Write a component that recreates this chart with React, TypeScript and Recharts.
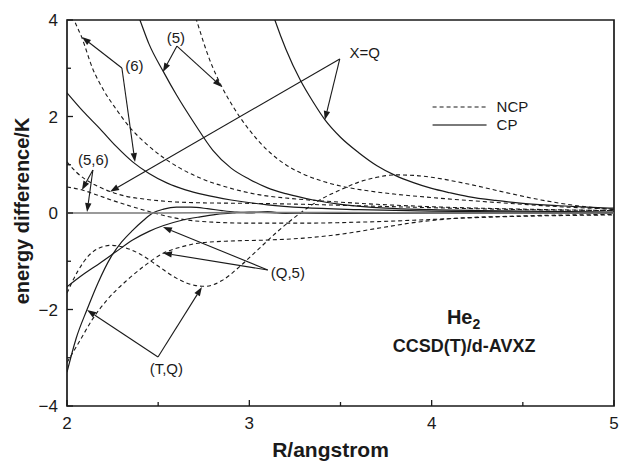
import React from 'react';
import { LineChart, Line, XAxis, YAxis, ReferenceLine, ReferenceDot, ReferenceArea } from 'recharts';

type P = [number, number];

// ---- tick values ----
const xTicks = [2, 2.5, 3, 3.5, 4, 4.5, 5];
const yTicks = [-4, -3, -2, -1, 0, 1, 2, 3, 4];

// ---- CP (solid) series: [R, energy difference] ----
const cpXQ: P[] = [[3.06, 5.0], [3.1, 4.45], [3.14, 4.0], [3.2, 3.4], [3.28, 2.75], [3.35, 2.3], [3.415, 1.93], [3.5, 1.57], [3.6, 1.25], [3.7, 0.98], [3.8, 0.78], [3.9, 0.63], [4.0, 0.51], [4.1, 0.42], [4.2, 0.34], [4.35, 0.26], [4.5, 0.2], [4.7, 0.15], [4.85, 0.12], [5.0, 0.1]];
const cp5: P[] = [[2.35, 4.5], [2.4, 4.0], [2.45, 3.5], [2.53, 2.92], [2.6, 2.45], [2.7, 1.85], [2.8, 1.3], [2.9, 0.93], [3.0, 0.7], [3.1, 0.52], [3.2, 0.4], [3.35, 0.27], [3.5, 0.18], [3.75, 0.1], [4.0, 0.07], [4.5, 0.04], [5.0, 0.02]];
const cp6: P[] = [[2.0, 2.49], [2.09, 2.1], [2.18, 1.75], [2.27, 1.38], [2.36, 1.06], [2.45, 0.82], [2.55, 0.62], [2.65, 0.48], [2.75, 0.38], [2.9, 0.27], [3.1, 0.17], [3.3, 0.11], [3.6, 0.07], [4.0, 0.04], [4.5, 0.02], [5.0, 0.01]];
const cpTQ: P[] = [[2.0, -3.3], [2.05, -2.6], [2.11, -2.0], [2.17, -1.45], [2.24, -0.92], [2.3, -0.6], [2.36, -0.36], [2.42, -0.15], [2.47, 0.0], [2.53, 0.08], [2.6, 0.12], [2.68, 0.12], [2.77, 0.09], [2.85, 0.05], [2.92, 0.02], [3.0, 0.0], [3.1, 0.03], [3.2, -0.01], [3.3, 0.01], [3.5, 0.0], [4.0, 0.0], [5.0, 0.0]];
const cpQ5: P[] = [[2.0, -1.53], [2.09, -1.27], [2.18, -1.04], [2.27, -0.8], [2.36, -0.56], [2.45, -0.38], [2.53, -0.26], [2.63, -0.15], [2.73, -0.08], [2.82, -0.03], [2.91, 0.0], [3.0, 0.02], [3.2, 0.0], [3.5, -0.01], [4.0, 0.0], [5.0, 0.0]];
const cp56: P[] = [[2.0, 0.0], [2.5, 0.0], [3.0, 0.01], [3.5, 0.01], [4.0, 0.0], [5.0, 0.0]];

// ---- NCP (dashed) series ----
const ncp5: P[] = [[2.66, 4.6], [2.71, 4.0], [2.78, 3.2], [2.85, 2.61], [2.92, 2.15], [3.0, 1.72], [3.1, 1.3], [3.2, 1.0], [3.3, 0.8], [3.4, 0.66], [3.5, 0.56], [3.65, 0.46], [3.8, 0.39], [4.0, 0.32], [4.2, 0.26], [4.5, 0.18], [4.75, 0.12], [5.0, 0.08]];
const ncp6: P[] = [[2.0, 4.5], [2.04, 4.0], [2.08, 3.65], [2.14, 3.0], [2.2, 2.55], [2.27, 2.15], [2.35, 1.75], [2.43, 1.45], [2.52, 1.17], [2.62, 0.93], [2.72, 0.74], [2.82, 0.6], [2.92, 0.49], [3.05, 0.38], [3.2, 0.31], [3.4, 0.25], [3.7, 0.18], [4.0, 0.13], [4.5, 0.08], [5.0, 0.05]];
const ncpXQ: P[] = [[2.0, 1.06], [2.05, 0.85], [2.1, 0.7], [2.17, 0.55], [2.24, 0.44], [2.32, 0.35], [2.42, 0.29], [2.55, 0.24], [2.75, 0.21], [3.0, 0.2], [3.3, 0.18], [3.6, 0.15], [4.0, 0.11], [4.5, 0.07], [5.0, 0.05]];
const ncp56: P[] = [[2.0, 0.54], [2.08, 0.48], [2.16, 0.38], [2.25, 0.26], [2.35, 0.14], [2.45, 0.03], [2.55, -0.07], [2.65, -0.14], [2.8, -0.19], [3.0, -0.21], [3.3, -0.21], [3.6, -0.19], [3.9, -0.15], [4.2, -0.1], [4.6, -0.06], [5.0, -0.04]];
const ncpTQ: P[] = [[2.0, -1.66], [2.06, -1.2], [2.12, -0.88], [2.18, -0.72], [2.24, -0.67], [2.3, -0.7], [2.4, -0.85], [2.5, -1.1], [2.6, -1.35], [2.7, -1.5], [2.76, -1.52], [2.85, -1.4], [2.95, -1.1], [3.05, -0.75], [3.15, -0.4], [3.28, 0.0], [3.4, 0.3], [3.5, 0.48], [3.6, 0.64], [3.7, 0.74], [3.8, 0.79], [3.9, 0.78], [4.0, 0.74], [4.2, 0.6], [4.4, 0.43], [4.6, 0.27], [4.8, 0.15], [5.0, 0.07]];
const ncpQ5: P[] = [[2.0, -3.1], [2.07, -2.65], [2.14, -2.2], [2.22, -1.8], [2.33, -1.39], [2.43, -1.08], [2.53, -0.83], [2.63, -0.7], [2.73, -0.62], [2.9, -0.58], [3.1, -0.56], [3.3, -0.52], [3.5, -0.44], [3.7, -0.32], [3.9, -0.2], [4.1, -0.12], [4.5, -0.06], [5.0, -0.03]];

// ---- annotation texts: [label, R, energy] ----
const labels: [string, number, number][] = [
  ['(5)', 2.597, 3.52],
  ['(6)', 2.37, 2.94],
  ['(5,6)', 2.145, 0.99],
  ['X=Q', 3.633, 3.21],
  ['(Q,5)', 3.211, -1.35],
  ['(T,Q)', 2.545, -3.34],
];

// ---- annotation arrows: [fromR, fromE, toR, toE] ----
const arrows: [number, number, number, number][] = [
  [2.603, 3.46, 2.526, 2.922],
  [2.603, 3.46, 2.849, 2.611],
  [2.301, 3.005, 2.082, 3.648],
  [2.301, 3.005, 2.373, 1.057],
  [3.496, 3.192, 3.414, 1.927],
  [3.496, 3.192, 2.236, 0.44],
  [2.142, 0.891, 2.082, 0.477],
  [2.142, 0.891, 2.11, 0.021],
  [3.101, -1.181, 2.526, -0.29],
  [3.101, -1.181, 2.526, -0.829],
  [2.499, -2.984, 2.11, -2.01],
  [2.499, -2.984, 2.74, -1.534],
];

const FONT = '"Liberation Sans", Arial, Helvetica, sans-serif';
const INK = '#1a1a1a';

const toData = (pts: P[]) => pts.map(([x, y]) => ({ x, y }));

const solids: [string, P[], string][] = [
  ['cpXQ', cpXQ, INK],
  ['cp5', cp5, INK],
  ['cp6', cp6, INK],
  ['cpTQ', cpTQ, INK],
  ['cpQ5', cpQ5, INK],
  ['cp56', cp56, '#7a7a7a'],
];
const dashes: [string, P[]][] = [
  ['ncp5', ncp5],
  ['ncp6', ncp6],
  ['ncpXQ', ncpXQ],
  ['ncp56', ncp56],
  ['ncpTQ', ncpTQ],
  ['ncpQ5', ncpQ5],
];

const fmt = (v: number) => (v < 0 ? '\u2212' + String(-v) : String(v));

const XTick = (props: any) => {
  const { x, y, payload } = props;
  const v = payload.value as number;
  const major = Number.isInteger(v);
  return (
    <g>
      <line x1={x} y1={y} x2={x} y2={y - (major ? 6 : 4)} stroke={INK} strokeWidth={1.3} />
      {major && (
        <text x={x} y={y + 23} textAnchor="middle" fontSize={17} fontFamily={FONT} fill={INK}>
          {fmt(v)}
        </text>
      )}
    </g>
  );
};

const YTick = (props: any) => {
  const { x, y, payload } = props;
  const v = payload.value as number;
  const major = v % 2 === 0;
  return (
    <g>
      <line x1={x} y1={y} x2={x + (major ? 6 : 4)} y2={y} stroke={INK} strokeWidth={1.3} />
      {major && (
        <text x={x - 9} y={y + 6} textAnchor="end" fontSize={17} fontFamily={FONT} fill={INK}>
          {fmt(v)}
        </text>
      )}
    </g>
  );
};

const arrowShape = (p: any) => {
  const { x1, y1, x2, y2 } = p;
  const dx = x2 - x1;
  const dy = y2 - y1;
  const len = Math.hypot(dx, dy) || 1;
  const ux = dx / len;
  const uy = dy / len;
  const hl = 9;
  const hw = 3.2;
  const bx = x2 - ux * hl;
  const by = y2 - uy * hl;
  const pts = `${x2},${y2} ${bx - uy * hw},${by + ux * hw} ${bx + uy * hw},${by - ux * hw}`;
  return (
    <g>
      <line x1={x1} y1={y1} x2={bx} y2={by} stroke={INK} strokeWidth={1.1} />
      <polygon points={pts} fill={INK} />
    </g>
  );
};

const textShape = (content: React.ReactNode, anchor: string, size: number, weight: string) => (p: any) => (
  <text x={p.cx} y={p.cy} textAnchor={anchor} fontSize={size} fontWeight={weight} fontFamily={FONT} fill={INK}>
    {content}
  </text>
);

const XTitle = (props: any) => {
  const vb = props.viewBox;
  return (
    <text x={vb.x + vb.width / 2 - 10} y={vb.y + 51} textAnchor="middle" fontSize={21} fontWeight="bold" fontFamily={FONT} fill={INK}>
      R/angstrom
    </text>
  );
};

const YTitle = () => {
  const cx = 14;
  const cy = 203;
  return (
    <text x={cx} y={cy} transform={`rotate(-90 ${cx} ${cy})`} textAnchor="middle" dominantBaseline="central" fontSize={20} fontWeight="bold" fontFamily={FONT} fill={INK}>
      energy difference/K
    </text>
  );
};

export default function App() {
  return (
    <div style={{ position: 'absolute', left: 8, top: 8, width: 612, height: 453 }}>
      <LineChart width={612} height={453} margin={{ top: 12, right: 6, bottom: 0, left: 0 }} style={{ overflow: 'visible' }}>
        <XAxis
          dataKey="x"
          type="number"
          domain={[2, 5]}
          allowDataOverflow
          ticks={xTicks}
          interval={0}
          height={55}
          tickSize={0}
          tickMargin={0}
          tickLine={false}
          axisLine={false}
          tick={<XTick />}
          label={<XTitle />}
        />
        <YAxis
          type="number"
          domain={[-4, 4]}
          allowDataOverflow
          ticks={yTicks}
          interval={0}
          width={59}
          tickSize={0}
          tickMargin={0}
          tickLine={false}
          axisLine={false}
          tick={<YTick />}
          label={<YTitle />}
        />
        <ReferenceArea x1={2} x2={5} y1={-4} y2={4} fill="none" stroke={INK} strokeWidth={1.7} fillOpacity={0} />
        {dashes.map(([name, pts]) => (
          <Line
            key={name}
            data={toData(pts)}
            dataKey="y"
            type="monotone"
            stroke={INK}
            strokeWidth={1.1}
            strokeDasharray="4 3"
            dot={false}
            activeDot={false}
            isAnimationActive={false}
          />
        ))}
        {solids.map(([name, pts, color]) => (
          <Line
            key={name}
            data={toData(pts)}
            dataKey="y"
            type="monotone"
            stroke={color}
            strokeWidth={name === 'cp56' ? 1.6 : 1.2}
            dot={false}
            activeDot={false}
            isAnimationActive={false}
          />
        ))}
        {arrows.map((a, i) => (
          <ReferenceLine key={'a' + i} segment={[{ x: a[0], y: a[1] }, { x: a[2], y: a[3] }]} shape={arrowShape} />
        ))}
        {labels.map(([t, x, y]) => (
          <ReferenceDot key={t} x={x} y={y} r={0} shape={textShape(t, 'middle', 15, 'normal')} />
        ))}
        {/* legend */}
        <ReferenceLine segment={[{ x: 4.005, y: 2.197 }, { x: 4.301, y: 2.197 }]} stroke={INK} strokeWidth={1.1} strokeDasharray="4 3" />
        <ReferenceLine segment={[{ x: 4.005, y: 1.824 }, { x: 4.301, y: 1.824 }]} stroke="#7a7a7a" strokeWidth={1.8} />
        <ReferenceDot x={4.356} y={2.093} r={0} shape={textShape('NCP', 'start', 15, 'normal')} />
        <ReferenceDot x={4.356} y={1.72} r={0} shape={textShape('CP', 'start', 15, 'normal')} />
        {/* title */}
        <ReferenceDot
          x={4.175}
          y={-2.3}
          r={0}
          shape={textShape(
            <>
              He<tspan fontSize={14} dy={5}>2</tspan>
            </>,
            'middle',
            20,
            'bold'
          )}
        />
        <ReferenceDot x={4.178} y={-2.881} r={0} shape={textShape('CCSD(T)/d-AVXZ', 'middle', 18, 'bold')} />
      </LineChart>
    </div>
  );
}
